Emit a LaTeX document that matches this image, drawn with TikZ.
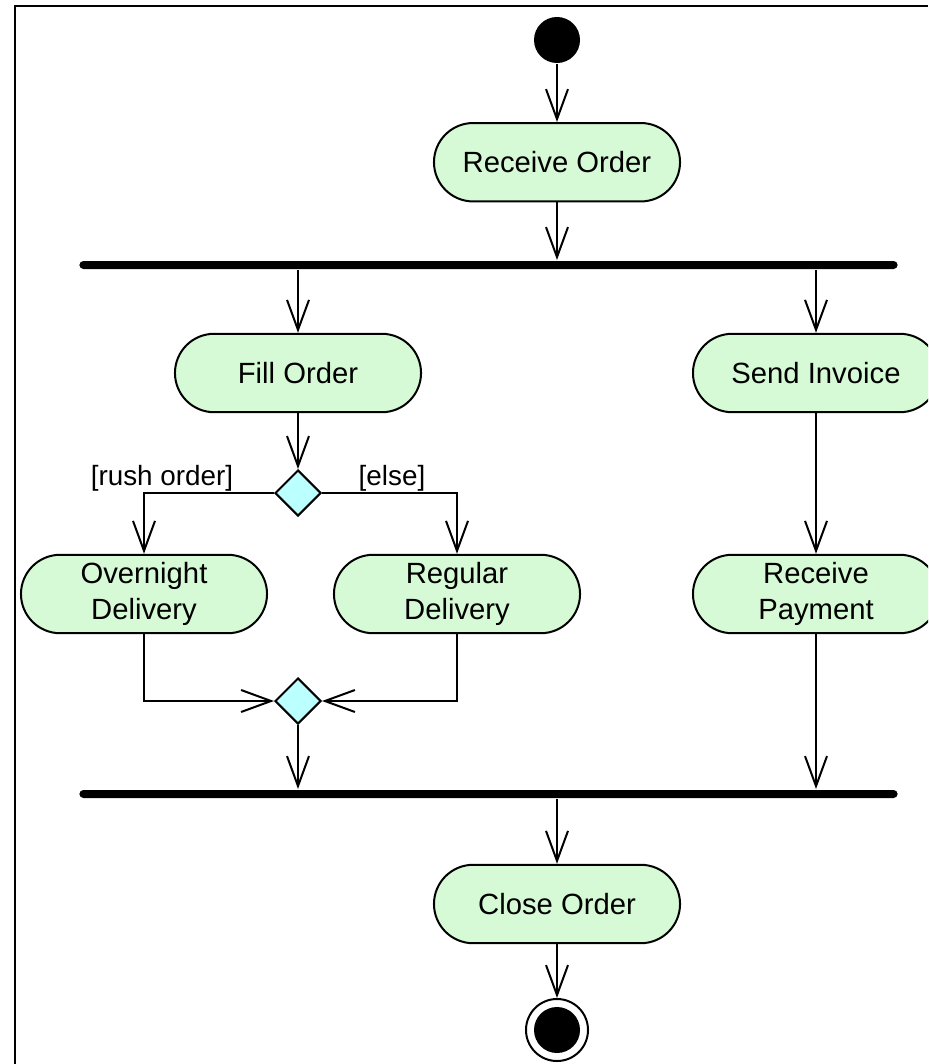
\documentclass[tikz,border=0pt]{standalone}
\usepackage{fontspec}
\setmainfont{Liberation Sans}
\usepackage{xcolor}
\usepackage{tikz}
\usetikzlibrary{positioning}
\usetikzlibrary{shapes.geometric}
\usetikzlibrary{arrows.meta}
\definecolor{actgreen}{RGB}{213,250,213}
\definecolor{decidecyan}{RGB}{188,255,255}

\begin{document}
\begin{tikzpicture}[x=0.025cm, y=-0.025cm, line width=0.05cm,
        >={Straight Barb[length=0.75cm,width=0.55cm]}]

                \def\d{1.5cm}

                % Styles for the activities, the bars and the decisions
                \tikzset{
                    act/.style={draw, fill=actgreen, rounded corners=0.98cm,
                        minimum width=6.15cm, minimum height=1.96cm,
                        inner sep=0pt, align=center,
                        font=\fontsize{20.8}{25}\selectfont},
                    syncbar/.style={fill=black, minimum width=20.45cm,
                        minimum height=0.2cm, inner sep=0pt,
                        rounded corners=0.1cm},
                    decide/.style={diamond, draw, fill=decidecyan,
                        minimum size=1.15cm, inner sep=0pt},
                    guard/.style={inner sep=0pt,
                        font=\fontsize{19.8}{23}\selectfont},
                    startdot/.style={circle, fill=black,
                        minimum size=1.15cm, inner sep=0pt}
                }

                \useasboundingbox (0,0) rectangle (928,1064);
                \clip (0,0) rectangle (928,1064);

                % Frame
                \draw (15,1064) -- (15,6) -- (928,6);

                \begin{scope}

                    \node (start) [startdot] at (557,40) {};
                    \node (recv) [act, below=1.45cm of start]
                    {Receive Order};
                    \node (fork) [syncbar] at (488.5,265) {};
                    \node (fill) [act] at (298,373) {Fill Order};
                    \node (invoice) [act] at (816,373) {Send Invoice};
                    \node (branch) [decide] at (298,493) {};
                    \node (rush) [guard] at (162,478) {[rush order]};
                    \node (else) [guard] at (392,478) {[else]};
                    \node (over) [act] at (144,594)
                    {Overnight\\Delivery};
                    \node (regular) [act] at (457,594)
                    {Regular\\Delivery};
                    \node (payment) [act] at (816,594)
                    {Receive\\Payment};
                    \node (merge) [decide] at (298,701) {};
                    \node (join) [syncbar] at (488.5,794) {};
                    \node (close) [act] at (557,904) {Close Order};
                    \node (stop) [circle, draw, minimum size=1.55cm,
                        inner sep=0pt] at (557,1030) {};
                    \node (stopdot) [startdot] at (stop) {};
                \end{scope}

                \begin{scope}
                    \draw[->] (start) -- (recv);
                    \draw[->] (recv) -- (recv |- fork.north);
                    \draw[->] (fill |- fork.south) -- (fill);
                    \draw[->] (invoice |- fork.south) -- (invoice);
                    \draw[->] (fill) -- (branch);
                    \draw[->] (branch) -| (over);
                    \draw[->] (branch) -| (regular);
                    \draw[->] (invoice) -- (payment);
                    \draw[->] (over) |- (merge);
                    \draw[->] (regular) |- (merge);
                    \draw[->] (merge) -- (merge |- join.north);
                    \draw[->] (payment) -- (payment |- join.north);
                    \draw[->] (close |- join.south) -- (close);
                    \draw[->] (close) -- (stop);
                \end{scope}

                \end{tikzpicture}
\end{document}
